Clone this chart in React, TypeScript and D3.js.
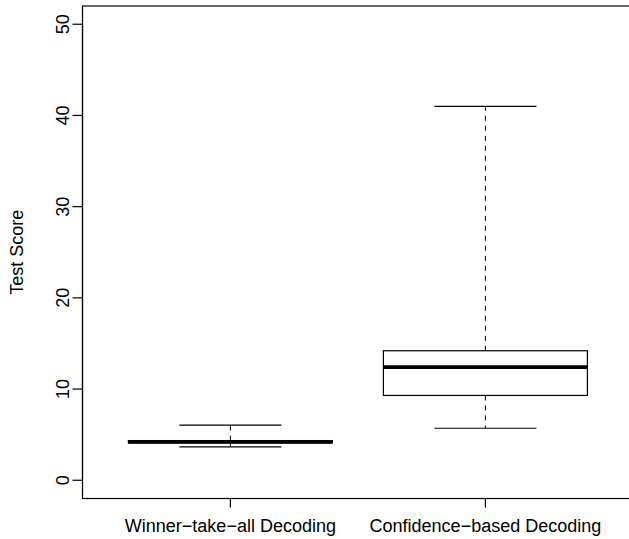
import React from "react";
import * as d3 from "d3";

const categories = ["Winner\u2212take\u2212all Decoding", "Confidence\u2212based Decoding"];
const whiskerLow = [3.65, 5.7];
const q1 = [4.1, 9.3];
const medians = [4.2, 12.4];
const q3 = [4.35, 14.2];
const whiskerHigh = [6.05, 41.0];
const yTicks = [0, 10, 20, 30, 40, 50];
const yLabel = "Test Score";

const W = 629;
const H = 539;

export default function App() {
  const plotLeft = 82.5;
  const plotTop = 6;
  const plotBottom = 498.5;
  const unit = 255;
  const x = d3.scaleLinear().domain([0.42, 2.58]).range([plotLeft, plotLeft + 2.16 * unit]);
  const y = d3.scaleLinear().domain([-2, 52]).range([plotBottom, plotTop]);
  const plotRight = x(2.58);
  const boxHalf = 0.4;
  const capHalf = 0.2;
  const font = "'Liberation Sans', Arial, Helvetica, sans-serif";
  const fs = 18;

  return (
    <svg
      width={W}
      height={H}
      style={{ position: "absolute", left: 0, top: 0, background: "#fff" }}
      fontFamily={font}
    >
      <rect x={0} y={0} width={W} height={H} fill="#fff" />
      {categories.map((c, i) => {
        const cx = x(i + 1);
        return (
          <g key={c}>
            <line x1={cx} x2={cx} y1={y(q3[i])} y2={y(whiskerHigh[i])} stroke="#000" strokeWidth={1} strokeDasharray="5,5" />
            <line x1={cx} x2={cx} y1={y(q1[i])} y2={y(whiskerLow[i])} stroke="#000" strokeWidth={1} strokeDasharray="5,5" />
            <line x1={x(i + 1 - capHalf)} x2={x(i + 1 + capHalf)} y1={y(whiskerHigh[i])} y2={y(whiskerHigh[i])} stroke="#000" strokeWidth={1.2} />
            <line x1={x(i + 1 - capHalf)} x2={x(i + 1 + capHalf)} y1={y(whiskerLow[i])} y2={y(whiskerLow[i])} stroke="#000" strokeWidth={1.2} />
            <rect
              x={x(i + 1 - boxHalf)}
              y={y(q3[i])}
              width={x(i + 1 + boxHalf) - x(i + 1 - boxHalf)}
              height={y(q1[i]) - y(q3[i])}
              fill="none"
              stroke="#000"
              strokeWidth={1.2}
            />
            <line x1={x(i + 1 - boxHalf)} x2={x(i + 1 + boxHalf)} y1={y(medians[i])} y2={y(medians[i])} stroke="#000" strokeWidth={3.6} />
          </g>
        );
      })}

      <rect x={plotLeft} y={plotTop} width={plotRight - plotLeft} height={plotBottom - plotTop} fill="none" stroke="#000" strokeWidth={1.2} />

      <line x1={plotLeft} x2={plotLeft} y1={y(0)} y2={y(50)} stroke="#000" strokeWidth={1.2} />
      {yTicks.map((t) => (
        <g key={t}>
          <line x1={plotLeft - 10} x2={plotLeft} y1={y(t)} y2={y(t)} stroke="#000" strokeWidth={1.2} />
          <text
            transform={`translate(${plotLeft - 14},${y(t)}) rotate(-90)`}
            textAnchor="middle"
            fontSize={fs}
            fill="#000"
          >
            {t}
          </text>
        </g>
      ))}
      <text
        transform={`translate(22.5,${(plotTop + plotBottom) / 2}) rotate(-90)`}
        textAnchor="middle"
        fontSize={fs}
        fill="#000"
      >
        {yLabel}
      </text>

      <line x1={x(1)} x2={x(2)} y1={plotBottom} y2={plotBottom} stroke="#000" strokeWidth={1.2} />
      {categories.map((c, i) => (
        <g key={c}>
          <line x1={x(i + 1)} x2={x(i + 1)} y1={plotBottom} y2={plotBottom + 9} stroke="#000" strokeWidth={1.2} />
          <text x={x(i + 1)} y={532} textAnchor="middle" fontSize={fs} fill="#000">
            {c}
          </text>
        </g>
      ))}
    </svg>
  );
}
